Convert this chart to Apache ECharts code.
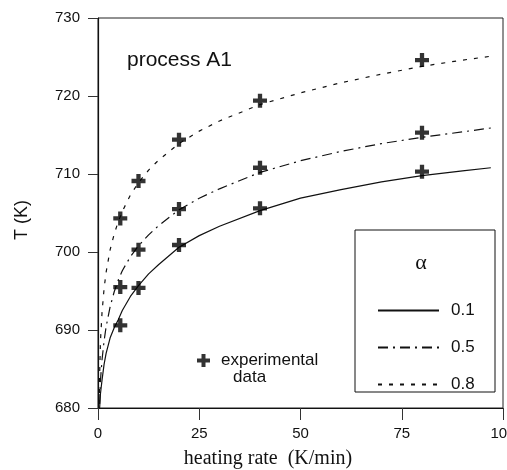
<!DOCTYPE html>
<html>
<head>
<meta charset="utf-8">
<script src="https://cdn.jsdelivr.net/npm/echarts@6/dist/echarts.min.js"></script>
<style>html,body{margin:0;padding:0;background:#fff;}#c{width:507px;height:470px;}</style>
</head>
<body>
<div id="c"></div>
<script>
// Experimental data (heating rate in K/min, temperature in K)
const rates = [5.5, 10, 20, 40, 80];
const exp01 = [690.6, 695.4, 700.9, 705.6, 710.3];
const exp05 = [695.5, 700.3, 705.5, 710.8, 715.3];
const exp08 = [704.3, 709.1, 714.4, 719.4, 724.6];

// Model curves
const curveRates = [0.3, 0.4, 0.6, 1, 1.5, 2, 3, 4, 5, 6, 8, 10, 12.5, 15, 20, 25, 30, 40, 50, 60, 70, 80, 90, 97];
const curve01 = [null, 680.0, 681.8, 683.6, 685.6, 687.0, 689.0, 690.3, 691.3, 692.5, 694.3, 695.7, 697.2, 698.4, 700.6, 702.1, 703.3, 705.3, 706.9, 708.0, 709.0, 709.8, 710.4, 710.8];
const curve05 = [null, 680.5, 683.5, 686.2, 688.6, 690.4, 693.0, 694.9, 696.4, 697.6, 699.4, 700.8, 702.2, 703.4, 705.4, 706.9, 708.1, 710.2, 711.7, 712.9, 713.9, 714.7, 715.4, 715.9];
const curve08 = [680.5, 684.0, 688.5, 692.3, 695.3, 697.4, 700.3, 702.3, 703.9, 705.2, 707.3, 708.9, 710.5, 711.8, 713.9, 715.5, 716.8, 718.9, 720.4, 721.7, 722.8, 723.8, 724.6, 725.1];

const alphaLabels = ['0.1', '0.5', '0.8'];
const xTicks = [0, 25, 50, 75, 100];
const yTicks = [680, 690, 700, 710, 720, 730];

const crossPath = 'path://M4.5,0H8.5V4.5H13V8.5H8.5V13H4.5V8.5H0V4.5H4.5Z';
const sans = 'Liberation Sans, Arial, sans-serif';
const serif = 'Liberation Serif, Times New Roman, serif';

function pairs(xs, ys) { return xs.map((x, i) => [x, ys[i]]); }

const expData = [].concat(pairs(rates, exp01), pairs(rates, exp05), pairs(rates, exp08));

const chart = echarts.init(document.getElementById('c'), null, {renderer: 'canvas'});
chart.setOption({
  animation: false,
  backgroundColor: '#fff',
  grid: {left: 98, right: 4, top: 18, bottom: 62, containLabel: false, outerBoundsMode: 'none',
    show: true, borderColor: '#222', borderWidth: 1, backgroundColor: 'transparent'},
  xAxis: {
    type: 'value', min: xTicks[0], max: xTicks[xTicks.length - 1], interval: 25,
    axisLine: {show: true, lineStyle: {color: '#111', width: 1.2}},
    axisTick: {show: true, length: 12, lineStyle: {color: '#333'}},
    axisLabel: {margin: 18, fontSize: 15, color: '#111', fontFamily: sans, showMaxLabel: true, hideOverlap: false},
    splitLine: {show: false}
  },
  yAxis: {
    type: 'value', min: yTicks[0], max: yTicks[yTicks.length - 1], interval: 10,
    axisLine: {show: true, lineStyle: {color: '#111', width: 1.2}},
    axisTick: {show: true, length: 10, lineStyle: {color: '#333'}},
    axisLabel: {margin: 18, fontSize: 15, color: '#111', fontFamily: sans},
    splitLine: {show: false}
  },
  legend: [
    {
      left: 372, top: 297, orient: 'vertical', itemWidth: 61, itemHeight: 14, itemGap: 20,
      selectedMode: false,
      data: alphaLabels,
      itemStyle: {opacity: 0},
      textStyle: {fontSize: 17, color: '#111', fontFamily: sans, padding: [0, 0, 0, 7]}
    },
    {
      left: 192, top: 347, itemWidth: 13, itemHeight: 13, selectedMode: false,
      data: [{name: 'experimental data', icon: crossPath}],
      formatter: function () { return 'experimental'; },
      textStyle: {fontSize: 17, color: '#111', fontFamily: sans, padding: [0, 0, 0, 6]}
    }
  ],
  graphic: [
    {type: 'rect', z: 0, shape: {x: 355, y: 230, width: 140, height: 162}, style: {fill: '#fff', stroke: '#111', lineWidth: 1}},
    {type: 'text', x: 421, y: 263, style: {text: 'α', font: '22px ' + serif, fill: '#111', align: 'center', verticalAlign: 'middle'}},
    {type: 'text', x: 233, y: 377, style: {text: 'data', font: '17px ' + sans, fill: '#111', align: 'left', verticalAlign: 'middle'}},
    {type: 'text', x: 127, y: 60, style: {text: 'process A1', font: '21px ' + sans, fill: '#111', align: 'left', verticalAlign: 'middle'}},
    {type: 'text', x: 268, y: 459, style: {text: 'heating rate  (K/min)', font: '20px ' + serif, fill: '#111', align: 'center', verticalAlign: 'middle'}},
    {type: 'text', x: 22, y: 220, rotation: Math.PI / 2, style: {text: 'T (K)', font: '18px ' + sans, fill: '#111', align: 'center', verticalAlign: 'middle'}}
  ],
  series: [
    {name: alphaLabels[0], type: 'line', data: pairs(curveRates, curve01), symbol: 'none', smooth: false,
      lineStyle: {color: '#111', width: 1.2, type: 'solid'}, itemStyle: {color: '#111'}},
    {name: alphaLabels[1], type: 'line', data: pairs(curveRates, curve05), symbol: 'none', smooth: false,
      lineStyle: {color: '#111', width: 1.2, type: [10, 5, 2, 5]}, itemStyle: {color: '#111'}},
    {name: alphaLabels[2], type: 'line', data: pairs(curveRates, curve08), symbol: 'none', smooth: false,
      lineStyle: {color: '#111', width: 1.2, type: [4, 7]}, itemStyle: {color: '#111'}},
    {name: 'experimental data', type: 'scatter', data: expData, symbol: crossPath, symbolSize: 14, z: 5,
      itemStyle: {color: '#000'}}
  ]
});
</script>
</body>
</html>
